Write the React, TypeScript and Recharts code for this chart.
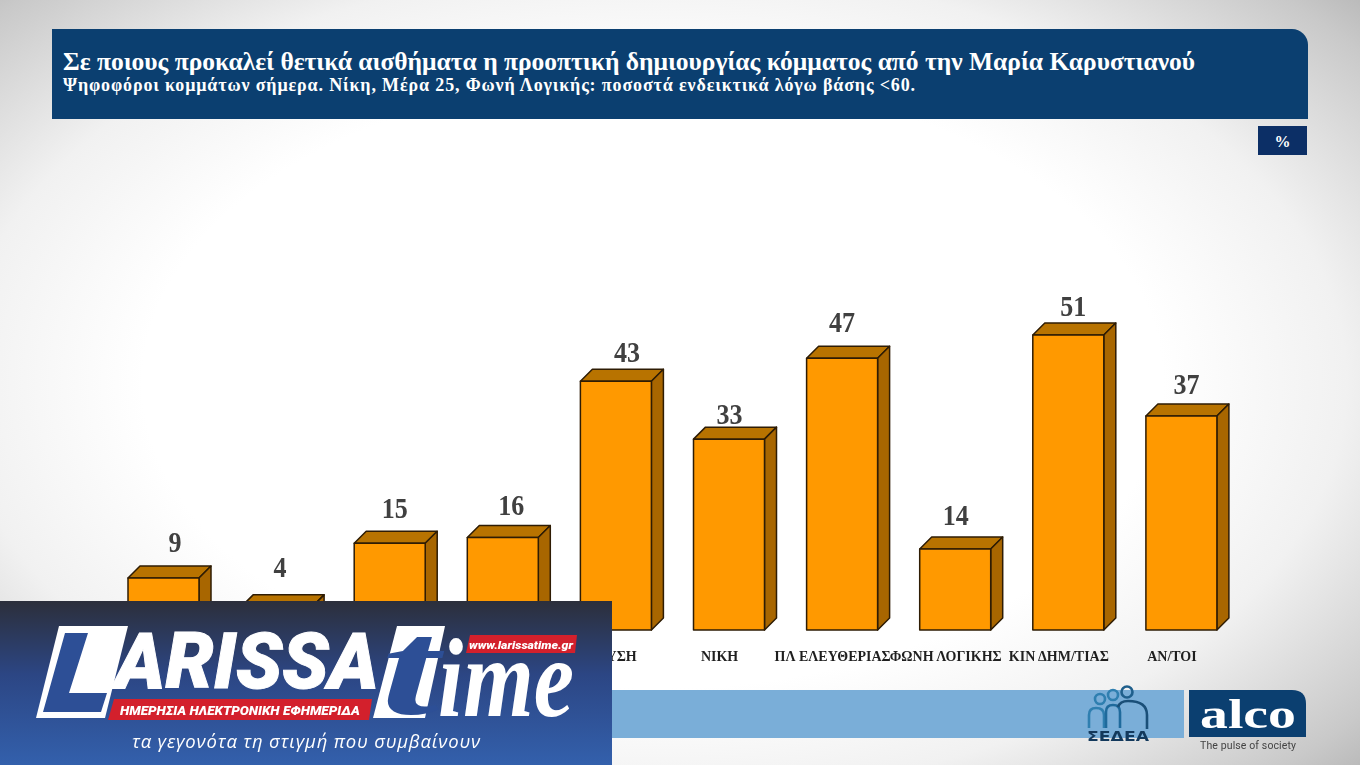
import { Bar, BarChart, LabelList, XAxis, YAxis } from "recharts";

const categories = ["", "", "", "", "ΕΛ ΛΥΣΗ", "ΝΙΚΗ", "ΠΛ ΕΛΕΥΘΕΡΙΑΣ", "ΦΩΝΗ ΛΟΓΙΚΗΣ", "ΚΙΝ ΔΗΜ/ΤΙΑΣ", "ΑΝ/ΤΟΙ"];
const values = [9, 4, 15, 16, 43, 33, 47, 14, 51, 37];

// hand placed labels in the source slide, they don't sit evenly over the bars
const labelDx = [11.5, 3.5, 5, 8.5, 11, 0.5, 0, 0.5, 5, 5];
const labelGap = [26, 30, 25, 22, 19, 15, 26, 24, 19, 22];

const rows = categories.map((_, i) => ({ idx: i, name: categories[i], value: values[i] }));

const SERIF = '"Liberation Serif", serif';
const NAVY = "#0b3f70";
const DEPTH = 12;

// fake 3d box, pptx style
const Box3D = (p: any) => {
  const { x, y, width, height } = p;
  const r = x + width;
  const b = y + height;
  return (
    <g stroke="#2e1c04" strokeWidth={1.5} strokeLinejoin="round">
      <polygon points={`${x},${y} ${x + DEPTH},${y - DEPTH} ${r + DEPTH},${y - DEPTH} ${r},${y}`} fill="#b87300" />
      <polygon points={`${r},${y} ${r + DEPTH},${y - DEPTH} ${r + DEPTH},${b - DEPTH} ${r},${b}`} fill="#a86600" />
      <rect x={x} y={y} width={width} height={height} fill="#ff9900" />
    </g>
  );
};

const ValueLabel = (p: any) => (
  <text
    x={p.x + p.width / 2 + labelDx[p.index]}
    y={p.y - labelGap[p.index]}
    textAnchor="middle"
    fontFamily={SERIF}
    fontWeight={700}
    fontSize={29}
    fill="#404040"
    textLength={String(p.value).length * 13}
    lengthAdjust="spacingAndGlyphs"
  >
    {p.value}
  </text>
);

const CatTick = (p: any) => (
  <text
    x={p.x - 9.5}
    y={p.y + 23}
    textAnchor="middle"
    fontFamily={SERIF}
    fontWeight={700}
    fontSize={14}
    fill="#1f1f1f"
  >
    {categories[p.payload.value]}
  </text>
);

const Sedea = () => (
  <svg style={{ position: "absolute", left: 1080, top: 684, width: 76, height: 60 }} viewBox="0 0 76 60">
    <g fill="none" strokeWidth={2.6}>
      <circle cx={20} cy={15} r={5} stroke="#2f7fb0" />
      <circle cx={33} cy={11} r={5} stroke="#2f7fb0" />
      <circle cx={47} cy={8} r={5.5} stroke="#1f5f8c" />
      <path d="M9 44 V31 Q9 24 16 24 Q24 24 24 31 V44" stroke="#2f7fb0" />
      <path d="M26 44 V28 Q26 21 33 21 Q40 21 40 28 V44" stroke="#1f6a9c" />
      <path d="M38 23 Q40 17 48 17 Q67 17 67 31 V45" stroke="#1a4f78" />
    </g>
    <text x={38} y={57} textAnchor="middle" fontFamily="'DejaVu Sans', sans-serif" fontWeight={700} fontSize={14} fill="#13395c" textLength={62} lengthAdjust="spacingAndGlyphs">
      ΣΕΔΕΑ
    </text>
  </svg>
);

const Alco = () => (
  <svg style={{ position: "absolute", left: 1189, top: 690, overflow: "visible" }} width={117} height={62}>
    <path d="M0 0 H103 Q117 0 117 14 V47 H0 Z" fill={NAVY} />
    <text x={11} y={38} fontFamily={SERIF} fontWeight={700} fontSize={42} fill="#fff" textLength={96} lengthAdjust="spacingAndGlyphs">
      alco
    </text>
    <text x={11} y={59} fontFamily="Roboto, sans-serif" fontSize={10.5} fill="#444" textLength={96}>
      The pulse of society
    </text>
  </svg>
);

const Banner = () => (
  <svg style={{ position: "absolute", left: 0, top: 601, overflow: "visible" }} width={612} height={164}>
    <defs>
      <linearGradient id="ban" x1="0" y1="0" x2="0" y2="1">
        <stop offset="0" stopColor="#2c2f3b" />
        <stop offset="0.45" stopColor="#2c4684" />
        <stop offset="1" stopColor="#3360ac" />
      </linearGradient>
    </defs>
    <rect width={612} height={164} fill="url(#ban)" />
    <polygon points="59,25 128,25 105,117 36,117" fill="#fff" />
    <polygon points="65,32 88,32 69,92 107,92 101,111 43,111" fill="#2d4f96" />
    <text x={115} y={87} fontFamily="Roboto, sans-serif" fontWeight={900} fontStyle="italic" fontSize={78} fill="#fff" stroke="#fff" strokeWidth={1} textLength={264} lengthAdjust="spacingAndGlyphs">
      ARISSA
    </text>
    <polygon points="114,98 372,98 369,119 108,119" fill="#d3202c" />
    <text x={240} y={114} textAnchor="middle" fontFamily="Roboto, sans-serif" fontWeight={900} fontStyle="italic" fontSize={13.5} fill="#fff" textLength={240} lengthAdjust="spacingAndGlyphs">
      ΗΜΕΡΗΣΙΑ ΗΛΕΚΤΡΟΝΙΚΗ ΕΦΗΜΕΡΙΔΑ
    </text>
    <polygon points="397,25 445,25 425,117 373,117" fill="#fff" />
    <text x={381} y={112} fontFamily={SERIF} fontWeight={700} fontStyle="italic" fontSize={135} fill="#2d4f96" textLength={58} lengthAdjust="spacingAndGlyphs">
      t
    </text>
    <text x={438} y={115} fontFamily={SERIF} fontStyle="italic" fontWeight={700} fontSize={112} fill="#fff" textLength={136} lengthAdjust="spacingAndGlyphs">
      ime
    </text>
    <polygon points="470,34 577,34 575,52 466,52" fill="#d3202c" />
    <text x={521} y={47.5} textAnchor="middle" fontFamily="Roboto, sans-serif" fontWeight={900} fontStyle="italic" fontSize={11.5} fill="#fff" textLength={104} lengthAdjust="spacingAndGlyphs">
      www.larissatime.gr
    </text>
    <text x={306} y={147} textAnchor="middle" fontFamily='"Open Sans", sans-serif' fontStyle="italic" fontSize={18.5} fill="#fff" textLength={348}>
      τα γεγονότα τη στιγμή που συμβαίνουν
    </text>
  </svg>
);

export default function App() {
  return (
    <div
      style={{
        position: "fixed",
        left: 0,
        top: 0,
        width: 1360,
        height: 765,
        overflow: "hidden",
        background: "radial-gradient(ellipse 75% 80% at 48% 50%, #ffffff 50%, #f1f1f1 68%, #c9c9c9 88%, #a9a9a9 100%)",
      }}
    >
      {/* header */}
      <div style={{ position: "absolute", left: 52, top: 29, width: 1256, height: 90, background: NAVY, borderTopRightRadius: 16, color: "#fff", fontFamily: SERIF, fontWeight: 700 }}>
        <div style={{ position: "absolute", left: 11, top: 18, fontSize: 25.5, whiteSpace: "nowrap" }}>
          Σε ποιους προκαλεί θετικά αισθήματα η προοπτική δημιουργίας κόμματος από την Μαρία Καρυστιανού
        </div>
        <div style={{ position: "absolute", left: 11, top: 46, fontSize: 18, letterSpacing: 0.86, whiteSpace: "nowrap" }}>
          Ψηφοφόροι κομμάτων σήμερα. Νίκη, Μέρα 25, Φωνή Λογικής: ποσοστά ενδεικτικά λόγω βάσης &lt;60.
        </div>
      </div>
      <div style={{ position: "absolute", left: 1258, top: 126, width: 49, height: 29, background: "#0c2f66", color: "#fff", fontFamily: SERIF, fontWeight: 700, fontSize: 16, textAlign: "center", lineHeight: "31px" }}>
        %
      </div>

      {/* footer strip + logos */}
      <div style={{ position: "absolute", left: 52, top: 690, width: 1132, height: 48, background: "#7aaed8" }} />
      <Sedea />
      <Alco />

      <div style={{ position: "absolute", left: 0, top: 0 }}>
        <BarChart width={1360} height={765} data={rows} margin={{ top: 283, right: 122, bottom: 105, left: 107 }}>
          <XAxis dataKey="idx" type="category" interval={0} height={30} axisLine={false} tickLine={false} tick={<CatTick />} />
          <YAxis hide domain={[0, 60]} />
          <Bar dataKey="value" barSize={71} shape={<Box3D />} isAnimationActive={false}>
            <LabelList dataKey="value" content={<ValueLabel />} />
          </Bar>
        </BarChart>
      </div>

      <Banner />
    </div>
  );
}
